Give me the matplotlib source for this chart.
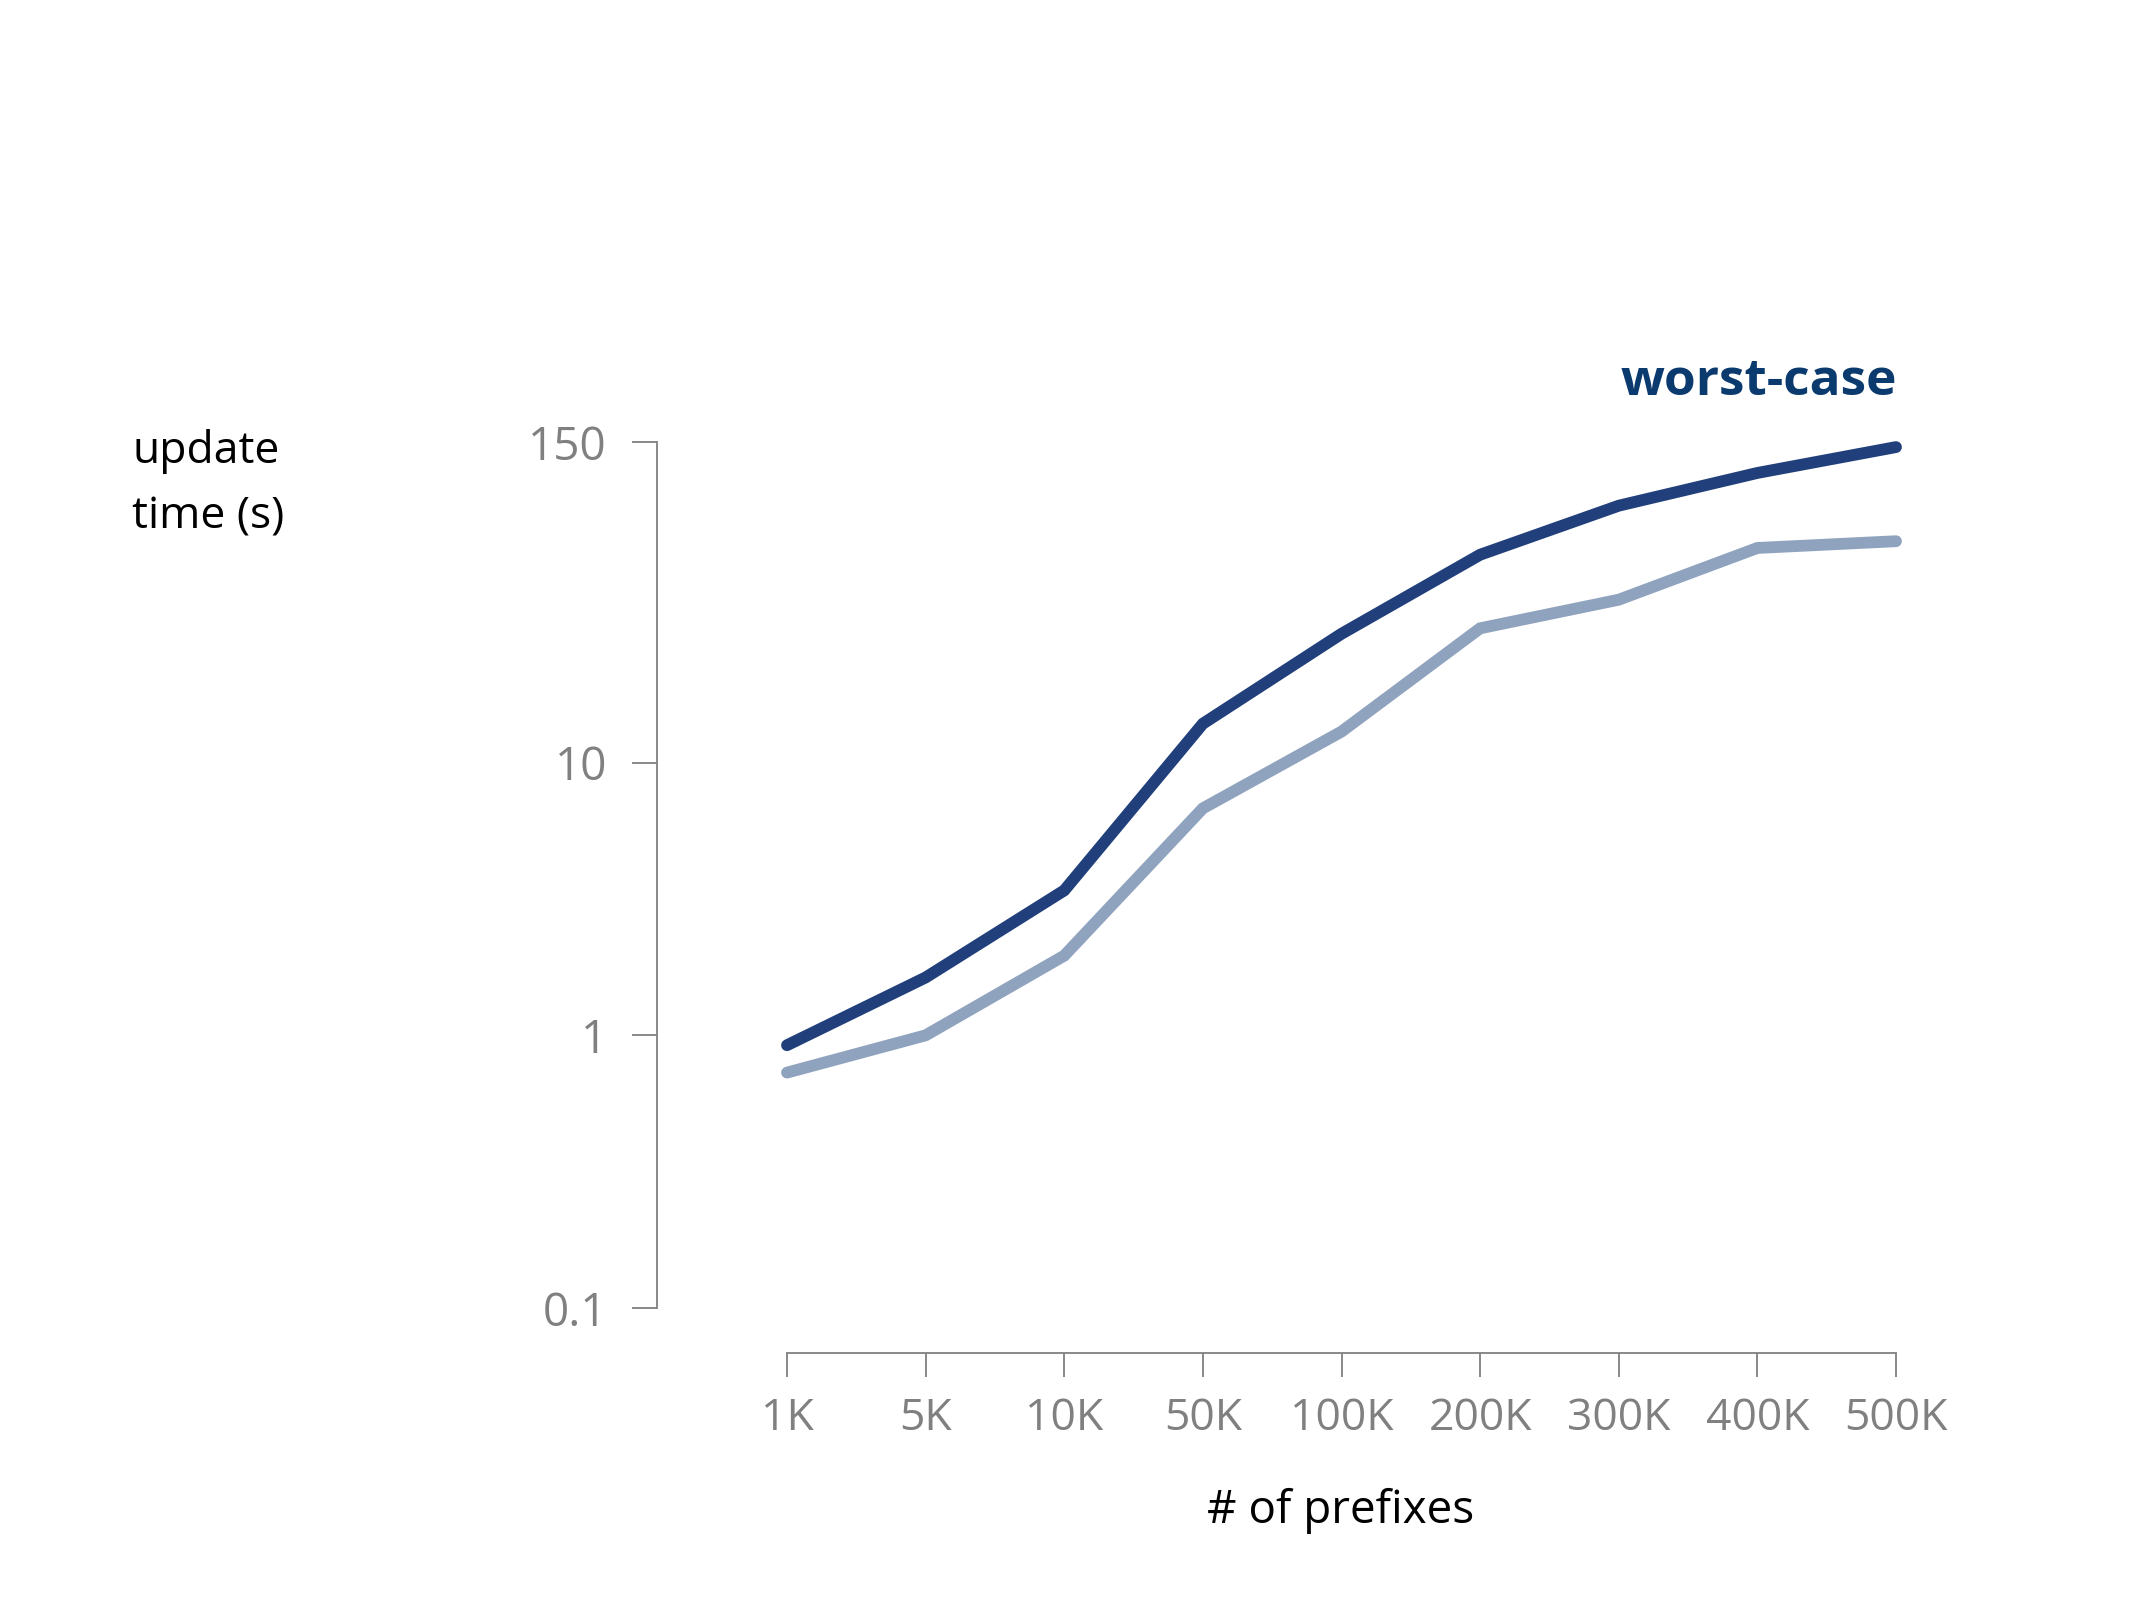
import matplotlib
matplotlib.use("Agg")
import matplotlib.pyplot as plt

categories = ["1K", "5K", "10K", "50K", "100K", "200K", "300K", "400K", "500K"]
worst_case = [0.92, 1.63, 3.4, 13.9, 29.7, 57.9, 87.6, 115.5, 143.7]
average = [0.73, 1.0, 1.96, 6.8, 13.0, 31.1, 39.6, 61.3, 64.9]
y_ticks = [0.1, 1, 10, 150]
y_tick_labels = ["0.1", "1", "10", "150"]

plt.rcParams['font.family'] = ['Open Sans', 'DejaVu Sans']

W, H = 2134, 1600
PX = 72 / 100  # points per pixel
fig = plt.figure(figsize=(W / 100, H / 100), dpi=100)
ax = fig.add_axes([787 / W, 1 - 1308 / H, (1896 - 787) / W, (1308 - 442) / H])

x = list(range(len(categories)))
ax.plot(x, average, color="#8FA3BF", lw=8.5, solid_capstyle="round", solid_joinstyle="miter",
        zorder=3, clip_on=False)
ax.plot(x, worst_case, color="#213F7B", lw=8.5, solid_capstyle="round", solid_joinstyle="miter",
        zorder=4, clip_on=False)

ax.set_yscale("log")
ax.set_ylim(0.1, 150)
ax.set_xlim(0, len(categories) - 1)
ax.set_yticks(y_ticks)
ax.set_yticklabels(y_tick_labels)
ax.minorticks_off()
ax.set_xticks(x)
ax.set_xticklabels(categories)

gray = "#808080"
for s in ["top", "right"]:
    ax.spines[s].set_visible(False)
ax.spines["left"].set_position(("outward", 130 * PX))
ax.spines["bottom"].set_position(("outward", 45 * PX))
for s in ["left", "bottom"]:
    ax.spines[s].set_color(gray)
    ax.spines[s].set_linewidth(1.3)

ax.tick_params(axis="y", direction="out", length=18, width=1.3, color=gray,
               labelcolor=gray, labelsize=33, pad=18)
ax.tick_params(axis="x", direction="out", length=17, width=1.3, color=gray,
               labelcolor=gray, labelsize=32, pad=14)
ax.patch.set_visible(False)

fig.text(132 / W, 1 - 463 / H, "update", fontsize=32, color="black", ha="left", va="baseline")
fig.text(132 / W, 1 - 528 / H, "time (s)", fontsize=32, color="black", ha="left", va="baseline")
fig.text(1341 / W, 1 - 1511 / H, "# of prefixes", fontsize=33, color="black", ha="center", va="center")
fig.text(1897 / W, 1 - 395 / H, "worst-case", fontsize=37, fontweight="bold", color="#0B3A6E",
         ha="right", va="baseline")

fig.savefig("out.png", dpi=100, facecolor="white")
